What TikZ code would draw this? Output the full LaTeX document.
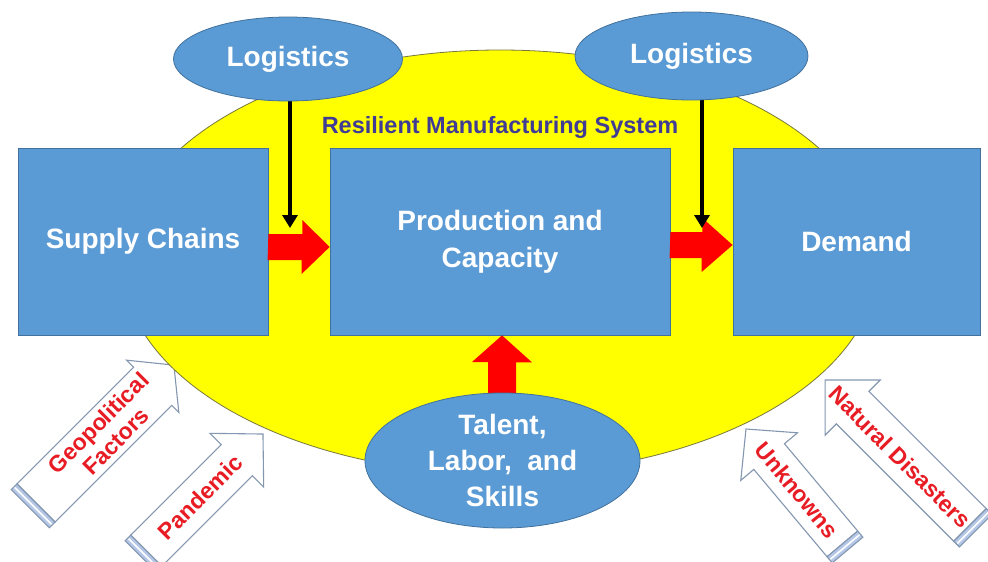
\documentclass[tikz,border=0pt]{standalone}
\usepackage{fontspec}
\setmainfont{Liberation Sans}
\usetikzlibrary{calc,arrows.meta,shapes.geometric}
\definecolor{boxblue}{RGB}{91,155,213}
\definecolor{boxedge}{RGB}{65,113,156}
\definecolor{sysyellow}{RGB}{255,255,0}
\definecolor{sysedge}{RGB}{120,120,60}
\definecolor{titleblue}{RGB}{64,60,150}
\definecolor{arrred}{RGB}{255,0,0}
\definecolor{hazedge}{RGB}{132,151,176}
\definecolor{hazcap}{RGB}{180,199,231}
\definecolor{haztext}{RGB}{232,28,36}

% #1,#2 tail (shaft start), #3 angle, #4 length, #5 half shaft, #6 half head, #7 head length
\newcommand{\hazardarrow}[7]{%
\begin{scope}[shift={(#1,#2)},rotate=#3]
\draw[hazline,fill=white] (0,-#5) -- (#4-#7,-#5) -- (#4-#7,-#6) -- (#4,0) -- (#4-#7,#6) -- (#4-#7,#5) -- (0,#5) -- cycle;
\draw[hazline,fill=hazcap] (-8,-#5) rectangle (0,#5);
\draw[white,line width=1.6pt] (-4,-#5+1) -- (-4,#5-1);
\end{scope}}

\begin{document}
\begin{tikzpicture}[x=1pt,y=-1pt,
  box/.style={draw=boxedge, line width=0.8pt, fill=boxblue, text=white,
    font=\bfseries\fontsize{28}{37}\selectfont, align=center, inner sep=0pt, minimum height=187pt},
  oval/.style={ellipse, draw=boxedge, line width=0.8pt, fill=boxblue, text=white,
    font=\bfseries\fontsize{28}{36}\selectfont, align=center, inner sep=0pt},
  hazline/.style={draw=hazedge, line width=1.1pt, line join=miter},
  haz/.style={text=haztext, font=\bfseries\fontsize{23}{25}\selectfont, align=center, inner sep=0pt},
  blk/.style={line width=3.5pt, -{Triangle[length=13pt,width=15pt]}},
  redarr/.style={fill=arrred}
]
\useasboundingbox (0,0) rectangle (988,562);
\fill[white] (0,0) rectangle (988,562);
\clip (0,0) rectangle (988,562);

% hazard arrows
\hazardarrow{36}{503}{45}{195}{27}{37}{30}
\hazardarrow{146.3}{550.7}{45}{165}{22}{38}{37}
\hazardarrow{842.4}{543.9}{130}{150}{20}{37}{36}
\hazardarrow{970}{525}{135}{205}{23}{39}{39}

% system ellipse
\node[ellipse, fill=sysyellow, draw=sysedge, line width=0.8pt, minimum width=756pt, minimum height=424pt, inner sep=0pt] (rms) at (500,262) {};
\node[text=titleblue, font=\bfseries\fontsize{23.5}{26}\selectfont, inner sep=0pt] (rmst) at (500,127) {Resilient Manufacturing System};

% boxes
\node[box, minimum width=250pt] (sc) at (143,241.5) {Supply Chains};
\node[box, minimum width=340pt] (pc) at (500,241.5) {Production and\\Capacity};
\node[box, minimum width=247pt] (dm) at (856.5,241.5) {Demand};

% red arrows
\fill[redarr] ($(sc.east)+(0,-7.5)$) -- ++(34,0) -- ++(0,-14) -- ($(pc.west)+(0,5.5)$) -- ++(-28,27) -- ++(0,-14) -- ++(-34,0) -- cycle;
\fill[redarr] ($(pc.east)+(0,-9.5)$) -- ++(32,0) -- ++(0,-14) -- ($(dm.west)+(0,3.5)$) -- ++(-31,27) -- ++(0,-14) -- ++(-32,0) -- cycle;
\coordinate (tlTop) at (502,400);
\fill[redarr] ($(tlTop)+(-14,0)$) -- ++(0,-38) -- ++(-16,0) -- ($(pc.south)+(2,0)$) -- ++(30,27) -- ++(-16,0) -- ++(0,38) -- cycle;

% black arrows
\coordinate (b1) at (290,228);
\coordinate (b2) at (702,228);
\node[oval, minimum width=229pt, minimum height=84pt, draw=none, fill=none] (log1g) at (288,59) {};
\draw[blk] (b1 |- log1g.center) -- (b1);
\draw[blk] (b2 |- 0,60) -- (b2);

% logistics ellipses
\node[oval, minimum width=229pt, minimum height=84pt] (log1) at (288,59) {Logistics};
\node[oval, minimum width=233pt, minimum height=88pt] (log2) at (691.5,56) {Logistics};

% talent ellipse
\node[oval, minimum width=275pt, minimum height=135pt] (tl) at (502.5,460.5) {Talent,\\Labor,\ \ and\\Skills};

% hazard labels
\node[haz, rotate=45] (geo) at (107,432) {Geopolitical\\Factors};
\node[haz, rotate=45] (pan) at (200,497) {Pandemic};
\node[haz, rotate=-50] (unk) at (797,490) {Unknowns};
\node[haz, rotate=-45] (nat) at (900,457) {Natural Disasters};
\end{tikzpicture}
\end{document}
